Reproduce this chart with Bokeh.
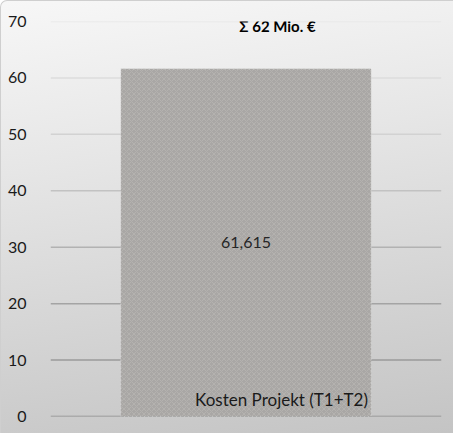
from bokeh.plotting import figure
from bokeh.models import FactorRange, Range1d, Span, Label, ColumnDataSource, FixedTicker
from bokeh.embed import file_html
from bokeh.resources import INLINE
from bokeh.core.properties import value

categories = ["Kosten Projekt (T1+T2)"]
values = [61.615]
y_ticks = [0, 10, 20, 30, 40, 50, 60, 70]
grid_colors = ["#8c8c8c", "#9a9a9a", "#a4a4a4", "#b2b2b2", "#c2c2c2", "#d2d2d2", "#dcdcdc", "#e6e6e6"]

FONT = "Lato"

total = sum(values)
value_labels = [f"{v:.3f}".replace(".", ",") for v in values]
half = [v / 2 for v in values]

src = ColumnDataSource(dict(cat=categories, val=values, half=half, vlab=value_labels))

p = figure(width=453, height=433, x_range=FactorRange(*categories, range_padding=0),
           y_range=Range1d(0, 70), output_backend="svg", toolbar_location=None,
           min_border_left=49, min_border_right=13, min_border_top=20, min_border_bottom=18)
p.styles = {"background": "linear-gradient(172deg, #f7f7f7 0%, #e6e6e6 35%, #c4c4c4 100%)",
            "border-top": "1px solid #cfcfcf", "border-left": "1px solid #cfcfcf",
            "border-top-left-radius": "7px", "box-sizing": "border-box"}
p.border_fill_alpha = 0
p.background_fill_alpha = 0
p.outline_line_color = None
p.xgrid.visible = False
p.ygrid.visible = False
p.xaxis.visible = False

ax = p.yaxis[0]
ax.ticker = FixedTicker(ticks=y_ticks)
ax.axis_line_color = None
ax.major_tick_line_color = None
ax.minor_tick_line_color = None
ax.major_label_standoff = 18
ax.major_label_text_font = FONT
ax.major_label_text_font_size = "16px"
ax.major_label_text_color = "#1a1a1a"

for t, c in zip(y_ticks, grid_colors):
    p.add_layout(Span(location=t, dimension="width", line_color=c, line_width=1.5, level="underlay"))

p.vbar(x="cat", top="val", width=0.64, source=src, fill_color="#a9a7a5",
       line_color="#dcdcdc", line_dash="1 3", line_width=1,
       hatch_pattern="diagonal_cross", hatch_color="#bcbab8", hatch_scale=5,
       hatch_weight=0.7, hatch_alpha=0.8)

p.text(x="cat", y="half", text="vlab", source=src, text_align="center", text_baseline="middle",
       text_font=value(FONT), text_font_size="16px", text_color="#262626")

p.text(x="cat", y=0, text="cat", source=src, text_align="right", text_baseline="alphabetic",
       x_offset=122, y_offset=-17, text_font=value(FONT), text_font_size="17px", text_color="#1a1a1a")

p.add_layout(Label(x=227, y=70, x_units="screen", y_units="data", y_offset=5,
                   text=f"Σ {round(total)} Mio. €", text_align="center", text_baseline="top",
                   text_font=FONT, text_font_size="15px", text_font_style="bold", text_color="#000000"))

open("out.html", "w").write(file_html(p, INLINE))
